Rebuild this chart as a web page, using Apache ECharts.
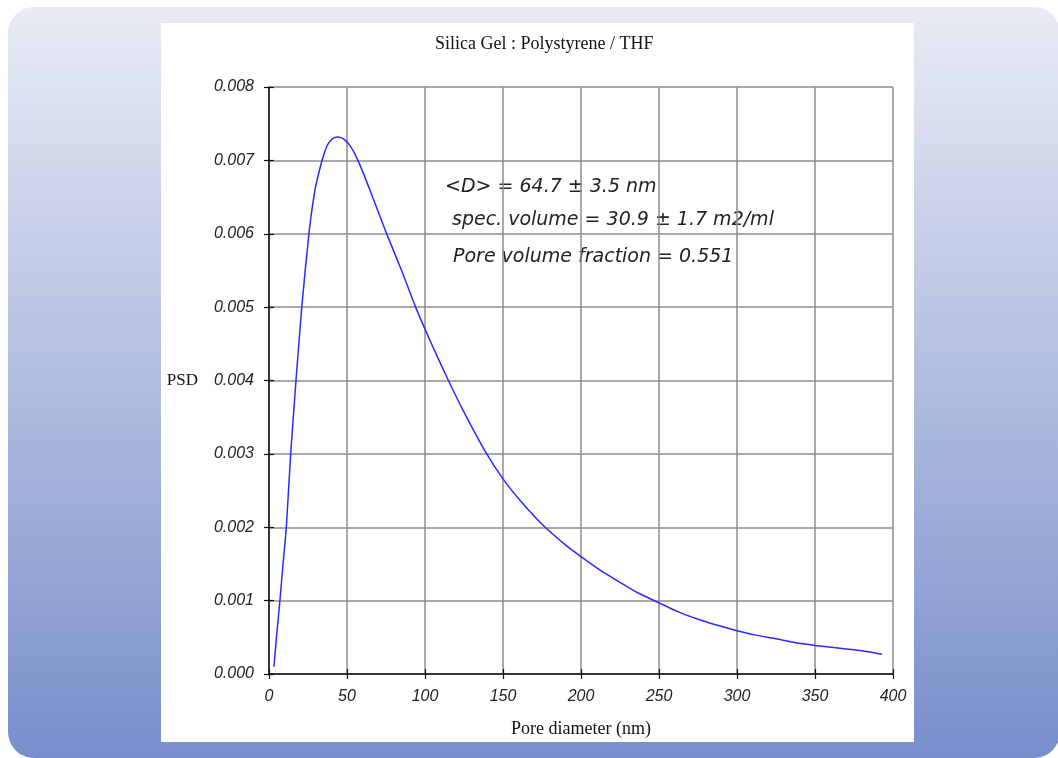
<!DOCTYPE html>
<html>
<head>
<meta charset="utf-8">
<script src="https://cdn.jsdelivr.net/npm/echarts@6/dist/echarts.min.js"></script>
<style>
  html, body { margin: 0; padding: 0; background: #ffffff; }
  #main { width: 1058px; height: 758px; }
</style>
</head>
<body>
<div id="main"></div>
<script>
// Pore diameter (nm) and PSD values
var poreDiameter = [3.2, 5, 7, 9, 11.1, 13.9, 17.3, 21, 25.6, 29.5, 33, 35.5, 37.5, 40, 42, 44, 46, 48, 52, 57, 65, 75.4, 85, 94, 105, 115, 125, 139, 150, 162, 176, 190, 200, 212, 225, 237, 250, 262, 276, 288, 300, 312, 325, 337, 350, 362, 375, 385, 393];
var psd = [0.0001, 0.00055, 0.001, 0.0015, 0.002, 0.003, 0.004, 0.005, 0.006, 0.0066, 0.00692, 0.0071, 0.00721, 0.00728, 0.00731, 0.00732, 0.00731, 0.00729, 0.0072, 0.007, 0.00658, 0.006, 0.0055, 0.005, 0.00446, 0.004, 0.00357, 0.00302, 0.00266, 0.00234, 0.00202, 0.00176, 0.0016, 0.00142, 0.00125, 0.0011, 0.00097, 0.00085, 0.00074, 0.00066, 0.00059, 0.00053, 0.00048, 0.00043, 0.00039, 0.00036, 0.00033, 0.0003, 0.00027];
var xTickStep = 50, xMin = 0, xMax = 400;
var yTickStep = 0.001, yMin = 0, yMax = 0.008;
var titleText = 'Silica Gel : Polystyrene / THF';
var xName = 'Pore diameter (nm)';
var yName = 'PSD';
var notes = ['<D> = 64.7 \u00b1 3.5 nm', 'spec. volume = 30.9 \u00b1 1.7 m2/ml', 'Pore volume fraction = 0.551'];

var seriesData = poreDiameter.map(function (d, i) { return [d, psd[i]]; });

var tickFont = { fontFamily: 'Liberation Sans, Arial, sans-serif', fontStyle: 'italic', fontSize: 16, color: '#222' };
var serifFont = 'Liberation Serif, Times New Roman, serif';

var chart = echarts.init(document.getElementById('main'), null, { renderer: 'canvas' });
chart.setOption({
  animation: false,
  backgroundColor: 'transparent',
  graphic: [
    {
      type: 'rect', z: -10, silent: true,
      shape: { x: 8, y: 7, width: 1052, height: 751, r: 26 },
      style: {
        fill: new echarts.graphic.LinearGradient(0, 0, 0, 1, [
          { offset: 0, color: '#e9ecf5' },
          { offset: 1, color: '#788ecb' }
        ])
      }
    },
    {
      type: 'rect', z: -9, silent: true,
      shape: { x: 161, y: 23, width: 753, height: 719 },
      style: { fill: '#ffffff' }
    },
    {
      type: 'text', z: -5, silent: true, x: 445, y: 187,
      style: { text: notes[0], font: 'italic 19px "DejaVu Sans", sans-serif', fill: '#222', textVerticalAlign: 'middle', verticalAlign: 'middle' }
    },
    {
      type: 'text', z: -5, silent: true, x: 452, y: 220,
      style: { text: notes[1], font: 'italic 19px "DejaVu Sans", sans-serif', fill: '#222', textVerticalAlign: 'middle', verticalAlign: 'middle' }
    },
    {
      type: 'text', z: -5, silent: true, x: 453, y: 257,
      style: { text: notes[2], font: 'italic 19px "DejaVu Sans", sans-serif', fill: '#222', textVerticalAlign: 'middle', verticalAlign: 'middle' }
    }
  ],
  title: {
    text: titleText,
    left: 435, top: 35, padding: 0,
    textStyle: { fontFamily: serifFont, fontSize: 18, fontWeight: 'normal', color: '#111' }
  },
  grid: { left: 269, right: 165, top: 87, bottom: 84, containLabel: false },
  xAxis: [
    {
      type: 'value', min: xMin, max: xMax, interval: xTickStep,
      name: xName, nameLocation: 'middle', nameGap: 46,
      nameTextStyle: { fontFamily: serifFont, fontSize: 18, color: '#111' },
      axisLine: { show: true, lineStyle: { color: '#111', width: 1.5 } },
      axisTick: { show: true, inside: false, length: 5, lineStyle: { color: '#111', width: 1.2 } },
      axisLabel: Object.assign({ margin: 15 }, tickFont),
      splitLine: { show: true, lineStyle: { color: '#8c8c8c', width: 1.5 } }
    },
    {
      type: 'value', min: xMin, max: xMax, interval: xTickStep, position: 'bottom',
      axisLine: { show: false },
      axisTick: { show: true, inside: true, length: 5, lineStyle: { color: '#111', width: 1.2 } },
      axisLabel: { show: false },
      splitLine: { show: false }
    }
  ],
  yAxis: [
    {
      type: 'value', min: yMin, max: yMax, interval: yTickStep,
      name: yName, nameLocation: 'middle', nameGap: 71, nameRotate: 0,
      nameTextStyle: { fontFamily: serifFont, fontSize: 17, color: '#111', align: 'right', verticalAlign: 'middle' },
      axisLine: { show: true, lineStyle: { color: '#111', width: 1.5 } },
      axisTick: { show: true, inside: false, length: 5, lineStyle: { color: '#111', width: 1.2 } },
      axisLabel: Object.assign({ margin: 15, formatter: function (v) { return v.toFixed(3); } }, tickFont),
      splitLine: { show: true, lineStyle: { color: '#8c8c8c', width: 1.5 } }
    },
    {
      type: 'value', min: yMin, max: yMax, interval: yTickStep, position: 'left',
      axisLine: { show: false },
      axisTick: { show: true, inside: true, length: 5, lineStyle: { color: '#111', width: 1.2 } },
      axisLabel: { show: false },
      splitLine: { show: false }
    }
  ],
  series: [
    {
      type: 'line', xAxisIndex: 0, yAxisIndex: 0,
      data: seriesData, smooth: 0.2, showSymbol: false,
      lineStyle: { color: '#2a2aff', width: 1.5 }
    }
  ]
});
</script>
</body>
</html>
